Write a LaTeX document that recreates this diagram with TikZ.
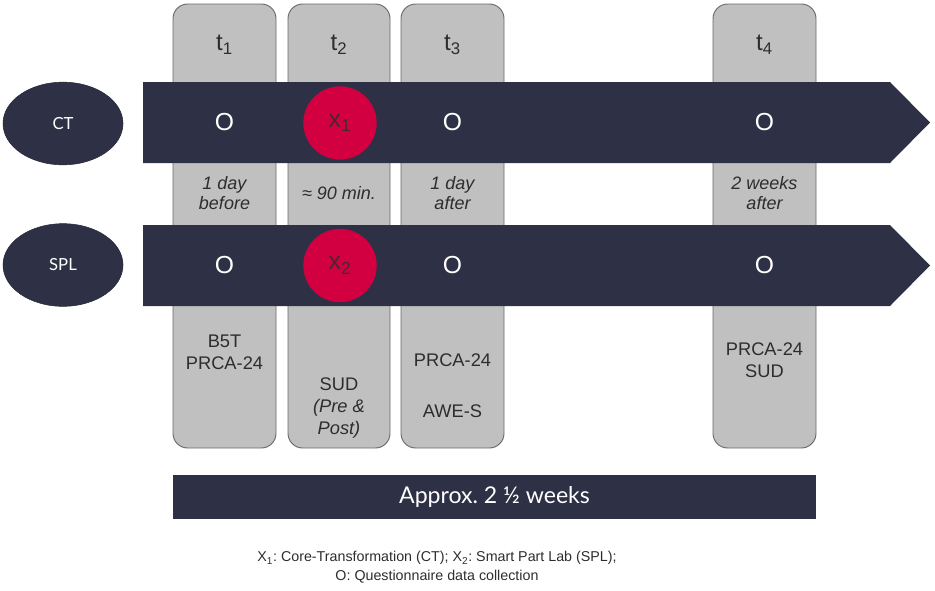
\documentclass[tikz,border=0pt]{standalone}
\usepackage{fontspec}
\setmainfont{Liberation Sans}
\newfontfamily\gillfont{Lato}
\frenchspacing
\usetikzlibrary{
    shapes.geometric,
    positioning
}
\definecolor{navy}{RGB}{46,49,69}
\definecolor{crimson}{RGB}{210,0,64}
\definecolor{boxgray}{RGB}{192,192,192}
\definecolor{edgegray}{RGB}{105,105,105}
\definecolor{txtgray}{RGB}{45,45,45}
\definecolor{markgray}{RGB}{70,40,52}
\tikzset{
    phase/.style={draw=edgegray, fill=boxgray, line width=0.7pt, rounded corners=11pt},
    band/.style={fill=navy},
    group/.style={ellipse, fill=navy, draw=navy!80!black, text=white, inner sep=0pt,
        minimum width=90pt, minimum height=62pt, font=\gillfont\fontsize{12.5}{15}\selectfont},
    treat/.style={circle, fill=crimson, text=markgray, inner sep=0pt, minimum size=55pt,
        font=\fontsize{18.5}{22}\selectfont},
    obs/.style={text=white, font=\fontsize{18.5}{22}\selectfont},
    tlabel/.style={text=txtgray, font=\fontsize{18}{22}\selectfont},
    gap/.style={text=txtgray, align=center, font=\itshape\fontsize{13.5}{15.2}\selectfont},
    tool/.style={text=txtgray, align=center, font=\fontsize{13.7}{16.4}\selectfont}
}
\begin{document}
\begin{tikzpicture}[x=0.75pt, y=-0.75pt]
    \useasboundingbox (0, 0) rectangle (935, 590);

    % measurement columns
    \draw[phase] (173, 4) rectangle (276, 448);
    \draw[phase] (288, 4) rectangle (390, 448);
    \draw[phase] (401, 4) rectangle (504, 448);
    \draw[phase] (713, 4) rectangle (816, 448);

    \node[tlabel] (t1) at (224.5, 45) {t\textsubscript{1}};
    \node[tlabel] (t2) at (339, 45) {t\textsubscript{2}};
    \node[tlabel] (t3) at (452.5, 45) {t\textsubscript{3}};
    \node[tlabel] (t4) at (764.5, 45) {t\textsubscript{4}};

    % group arrows
    \fill[band] (143, 82) -- (890, 82) -- (930, 122.5) -- (890, 163) -- (143, 163) -- cycle;
    \fill[band] (143, 225) -- (890, 225) -- (930, 265.5) -- (890, 306) -- (143, 306) -- cycle;

    \node[group] (ct) at (63, 123.5) {CT};
    \node[group] (spl) at (63, 265) {SPL};

    \node[obs] (oct1) at (224.5, 122.5) {O};
    \node[treat] (x1) at (340, 123) {x\textsubscript{1}};
    \node[obs] (oct3) at (452.5, 122.5) {O};
    \node[obs] (oct4) at (764.5, 122.5) {O};

    \node[obs] (ospl1) at (224.5, 265.5) {O};
    \node[treat] (x2) at (340, 265.5) {x\textsubscript{2}};
    \node[obs] (ospl3) at (452.5, 265.5) {O};
    \node[obs] (ospl4) at (764.5, 265.5) {O};

    % time between measurements
    \node[gap] (d1) at (224.5, 193) {1 day\\before};
    \node[gap] (d2) at (339, 193) {≈ 90 min.};
    \node[gap] (d3) at (452.5, 193) {1 day\\after};
    \node[gap] (d4) at (764.5, 193) {2 weeks\\after};

    % instruments
    \node[tool] (m1) at (224.5, 352.5) {B5T\\PRCA-24};
    \node[tool] (m2) at (339, 408) {SUD\\\textit{(Pre \&}\\\textit{Post)}};
    \node[tool] (m3) at (452.5, 386) {PRCA-24\\[22pt]AWE-S};
    \node[tool] (m4) at (764.5, 360) {PRCA-24\\SUD};

    \node[fill=navy, text=white, inner sep=0pt, minimum width=482pt, minimum height=33pt,
        font=\gillfont\fontsize{17.3}{20}\selectfont] (span) at (494.5, 497) {Approx. 2 ½ weeks};

    \node[text=txtgray, align=center, font=\fontsize{10.7}{14.2}\selectfont] (legend) at (437, 567.5)
        {X\textsubscript{1}: Core-Transformation (CT); X\textsubscript{2}: Smart Part Lab (SPL);\\
         O: Questionnaire data collection};
\end{tikzpicture}
\end{document}
